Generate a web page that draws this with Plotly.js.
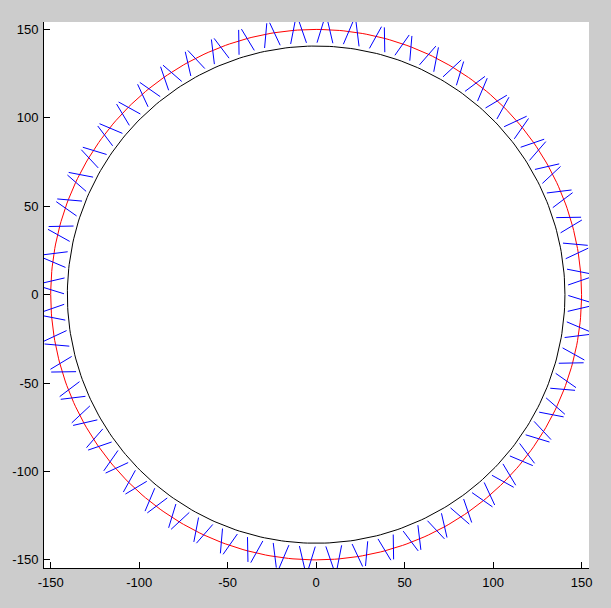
<!DOCTYPE html>
<html>
<head>
<meta charset="utf-8">
<script src="https://cdn.plot.ly/plotly-3.0.1.min.js"></script>
<style>
html,body{margin:0;padding:0;background:#cccccc;}
#chart{width:611px;height:608px;}
</style>
</head>
<body>
<div id="chart"></div>
<script>
// ---- data ----
// gear tooth centre angles (degrees)
var toothAngles = [4,10,16,22,28,34,40,46,52,58,64,70,76,82,88,94,100,106,112,118,
                   124,130,136,142,148,154,160,166,172,178,184,190,196,202,208,214,220,226,232,238,
                   244,250,256,262,268,274,280,286,292,298,304,310,316,322,328,334,340,346,352,358];
var pitchRadius = 150;   // red circle
var baseRadius = 140.6;  // black circle
var rootRadius = 142.5;  // inner end of each tooth flank
var tipRadius = 156;     // outer end of each tooth flank
var rootHalfAngle = 1.8; // deg, half tooth width at root
var tipHalfAngle = 0.3;  // deg, half tooth width at tip
var tickValues = [-150,-100,-50,0,50,100,150];
var tickLabels = ['-150','-100','-50','0','50','100','150'];

// ---- build traces ----
function circle(r){
  var xs=[], ys=[];
  for (var i=0;i<=360;i++){
    var a=i*Math.PI/180;
    xs.push(r*Math.cos(a)); ys.push(r*Math.sin(a));
  }
  return {x:xs,y:ys};
}
function pol(r,deg){var a=deg*Math.PI/180;return [r*Math.cos(a), r*Math.sin(a)];}

var tx=[], ty=[];
toothAngles.forEach(function(t){
  [1,-1].forEach(function(s){
    var p0=pol(rootRadius, t+s*rootHalfAngle);
    var p1=pol(tipRadius, t+s*tipHalfAngle);
    tx.push(p0[0],p1[0],null); ty.push(p0[1],p1[1],null);
  });
});

var red=circle(pitchRadius), blk=circle(baseRadius);
var traces=[
  {x:red.x,y:red.y,mode:'lines',line:{color:'#ff0000',width:1},hoverinfo:'skip',showlegend:false},
  {x:blk.x,y:blk.y,mode:'lines',line:{color:'#000000',width:1},hoverinfo:'skip',showlegend:false},
  {x:tx,y:ty,mode:'lines',line:{color:'#0000ff',width:1},hoverinfo:'skip',showlegend:false,connectgaps:false}
];

var axisCommon={
  showgrid:false, zeroline:false, showline:true, linecolor:'#000', linewidth:1,
  ticks:'inside', ticklen:6, tickcolor:'#000', tickwidth:1,
  tickmode:'array', tickvals:tickValues, ticktext:tickLabels,
  tickfont:{family:'Liberation Sans, Arial, sans-serif', size:13, color:'#000'},
  mirror:false, fixedrange:true
};
var layout={
  width:611, height:608,
  paper_bgcolor:'#cccccc', plot_bgcolor:'#ffffff',
  margin:{l:44, r:22, t:22, b:40, pad:0},
  xaxis:Object.assign({}, axisCommon, {range:[-153.8,154.2], ticklabelstandoff:2}),
  yaxis:Object.assign({}, axisCommon, {range:[-154.6,154.2], ticklabelstandoff:2}),
  showlegend:false
};
Plotly.newPlot('chart', traces, layout, {staticPlot:true, displayModeBar:false});
</script>
</body>
</html>
